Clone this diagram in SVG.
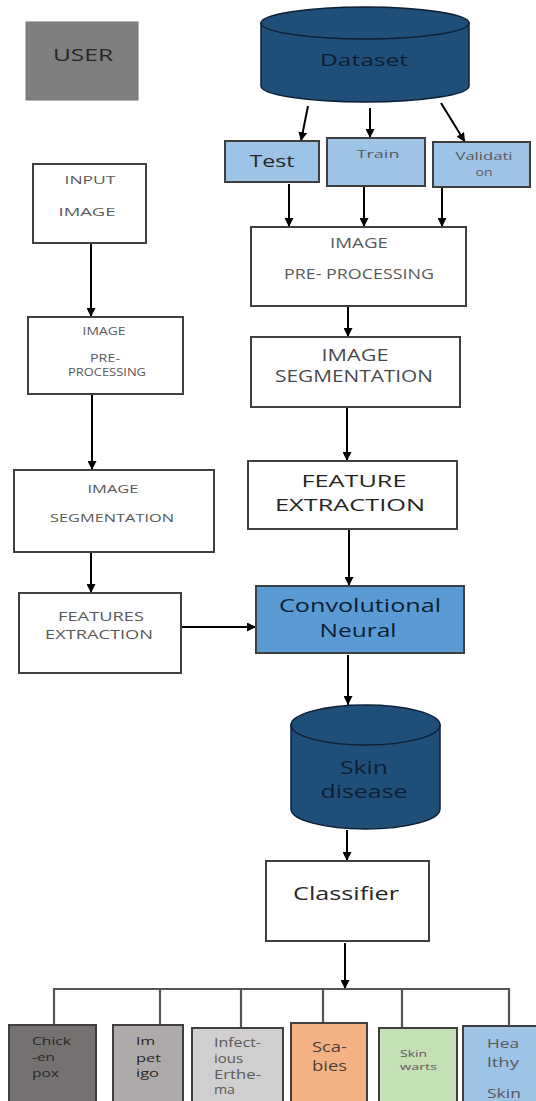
<svg xmlns="http://www.w3.org/2000/svg" width="536" height="1101" viewBox="0 0 536 1101">
<style>
text{font-family:"Open Sans","Liberation Sans",sans-serif;}
.box{stroke:#3f3f3f;stroke-width:2;}
.w{fill:#ffffff;}
.lb{fill:#9dc3e6;}
.cyl{fill:#1f4e79;stroke:#0d1f33;stroke-width:1.5;}
.c{text-anchor:middle;}
.g{fill:#595959;}
.d{fill:#262626;}
.n{fill:#0c1d30;}
.arr{stroke:#000;stroke-width:2;fill:none;marker-end:url(#ah);}
.br{stroke:#555;stroke-width:2.2;fill:none;}
</style>
<defs>
<marker id="ah" viewBox="0 0 10 10" refX="10" refY="5" markerUnits="userSpaceOnUse" markerWidth="9" markerHeight="9" orient="auto">
<path d="M0,0 L10,5 L0,10 Z" fill="#000"/>
</marker>
</defs>
<rect width="536" height="1101" fill="#ffffff"/>

<g id="connectors">
<line class="arr" x1="308" y1="106" x2="301" y2="141"/>
<line class="arr" x1="370" y1="108" x2="370" y2="138"/>
<line class="arr" x1="441" y1="103" x2="465" y2="142"/>
<line class="arr" x1="289" y1="184" x2="289" y2="227"/>
<line class="arr" x1="364" y1="187" x2="364" y2="227"/>
<line class="arr" x1="442" y1="187" x2="442" y2="227"/>
<line class="arr" x1="348" y1="306" x2="348" y2="337"/>
<line class="arr" x1="347" y1="407" x2="347" y2="461"/>
<line class="arr" x1="349" y1="529" x2="349" y2="586"/>
<line class="arr" x1="348" y1="655" x2="348" y2="705"/>
<line class="arr" x1="347" y1="830" x2="347" y2="861"/>
<line class="arr" x1="345" y1="943" x2="345" y2="989"/>
<line class="arr" x1="91" y1="243" x2="91" y2="317"/>
<line class="arr" x1="92" y1="394" x2="92" y2="470"/>
<line class="arr" x1="91" y1="552" x2="91" y2="593"/>
<line class="arr" x1="181" y1="627" x2="256" y2="627"/>
<polyline class="br" points="54,1025 54,989 510,989"/>
<line class="br" x1="160" y1="989" x2="160" y2="1025"/>
<line class="br" x1="241" y1="989" x2="241" y2="1028"/>
<line class="br" x1="323" y1="989" x2="323" y2="1023"/>
<line class="br" x1="402" y1="989" x2="402" y2="1028"/>
<line class="br" x1="509" y1="989" x2="509" y2="1026"/>
</g>

<g id="user">
<rect x="26" y="22" width="112" height="78" fill="#7f7f7f" stroke="#767676" stroke-width="1"/>
<text class="c d" x="83" y="61" font-size="16" textLength="60" lengthAdjust="spacingAndGlyphs">USER</text>
</g>

<g id="dataset">
<path class="cyl" d="M261,23 V86 A104,16 0 0 0 469,86 V23 Z"/>
<ellipse class="cyl" cx="365" cy="23" rx="104" ry="16"/>
<text class="c n" x="364" y="66" font-size="17" textLength="88" lengthAdjust="spacingAndGlyphs">Dataset</text>
</g>

<g id="test">
<rect class="box lb" x="225" y="141" width="94" height="41"/>
<text class="c d" x="272" y="167" font-size="16" textLength="45" lengthAdjust="spacingAndGlyphs">Test</text>
</g>

<g id="train">
<rect class="box lb" x="327" y="138" width="98" height="48"/>
<text class="c g" x="378" y="158" font-size="11.5" textLength="43" lengthAdjust="spacingAndGlyphs">Train</text>
</g>

<g id="validation">
<rect class="box lb" x="433" y="142" width="97" height="45"/>
<text class="c g" x="484" y="160" font-size="11" textLength="57" lengthAdjust="spacingAndGlyphs">Validati</text>
<text class="c g" x="484" y="176" font-size="11" textLength="17" lengthAdjust="spacingAndGlyphs">on</text>
</g>

<g id="input-image">
<rect class="box w" x="33" y="164" width="113" height="79"/>
<text class="c g" x="90" y="184" font-size="11" textLength="51" lengthAdjust="spacingAndGlyphs">INPUT</text>
<text class="c g" x="87" y="216" font-size="11" textLength="57" lengthAdjust="spacingAndGlyphs">IMAGE</text>
</g>

<g id="pre-processing-right">
<rect class="box w" x="251" y="227" width="215" height="79"/>
<text class="c g" x="359" y="248" font-size="14" textLength="58" lengthAdjust="spacingAndGlyphs">IMAGE</text>
<text class="c g" x="359" y="279" font-size="14" textLength="150" lengthAdjust="spacingAndGlyphs">PRE- PROCESSING</text>
</g>

<g id="pre-processing-left">
<rect class="box w" x="28" y="317" width="155" height="77"/>
<text class="c g" x="104" y="335" font-size="10.5" textLength="43" lengthAdjust="spacingAndGlyphs">IMAGE</text>
<text class="c g" x="105" y="362" font-size="10.5" textLength="30" lengthAdjust="spacingAndGlyphs">PRE-</text>
<text class="c g" x="107" y="376" font-size="10.5" textLength="78" lengthAdjust="spacingAndGlyphs">PROCESSING</text>
</g>

<g id="segmentation-right">
<rect class="box w" x="251" y="337" width="209" height="70"/>
<text class="c d" x="355" y="361" font-size="16" textLength="67" lengthAdjust="spacingAndGlyphs" fill-opacity="0.85">IMAGE</text>
<text class="c d" x="354" y="382" font-size="16" textLength="158" lengthAdjust="spacingAndGlyphs" fill-opacity="0.85">SEGMENTATION</text>
</g>

<g id="segmentation-left">
<rect class="box w" x="14" y="470" width="200" height="82"/>
<text class="c g" x="113" y="493" font-size="11.5" textLength="51" lengthAdjust="spacingAndGlyphs">IMAGE</text>
<text class="c g" x="112" y="522" font-size="11.5" textLength="124" lengthAdjust="spacingAndGlyphs">SEGMENTATION</text>
</g>

<g id="features-extraction-left">
<rect class="box w" x="19" y="593" width="162" height="80"/>
<text class="c g" x="101" y="621" font-size="13.5" textLength="86" lengthAdjust="spacingAndGlyphs">FEATURES</text>
<text class="c g" x="99" y="639" font-size="13.5" textLength="108" lengthAdjust="spacingAndGlyphs">EXTRACTION</text>
</g>

<g id="feature-extraction-right">
<rect class="box w" x="248" y="461" width="209" height="68"/>
<text class="c d" x="354" y="487" font-size="17" textLength="105" lengthAdjust="spacingAndGlyphs">FEATURE</text>
<text class="c d" x="350" y="511" font-size="17" textLength="150" lengthAdjust="spacingAndGlyphs">EXTRACTION</text>
</g>

<g id="cnn">
<rect class="box" x="256" y="586" width="208" height="67" fill="#5b9bd5"/>
<text class="c n" x="360" y="612" font-size="19" textLength="162" lengthAdjust="spacingAndGlyphs">Convolutional</text>
<text class="c n" x="358" y="637" font-size="19" textLength="77" lengthAdjust="spacingAndGlyphs">Neural</text>
</g>

<g id="skin-disease">
<path class="cyl" d="M291,725 V809 A74.5,20 0 0 0 440,809 V725 Z"/>
<ellipse class="cyl" cx="365.5" cy="725" rx="74.5" ry="20"/>
<text class="c n" x="364" y="774" font-size="19" textLength="48" lengthAdjust="spacingAndGlyphs">Skin</text>
<text class="c n" x="364" y="798" font-size="19" textLength="87" lengthAdjust="spacingAndGlyphs">disease</text>
</g>

<g id="classifier">
<rect class="box w" x="266" y="861" width="163" height="80"/>
<text class="c d" x="346" y="900" font-size="18" textLength="106" lengthAdjust="spacingAndGlyphs">Classifier</text>
</g>

<g id="chickenpox">
<rect class="box" x="9" y="1025" width="87" height="85" fill="#757171"/>
<text class="d" x="32" y="1045" font-size="11" textLength="39" lengthAdjust="spacingAndGlyphs">Chick</text>
<text class="d" x="32" y="1061" font-size="11" textLength="23" lengthAdjust="spacingAndGlyphs">-en</text>
<text class="d" x="32" y="1077" font-size="11" textLength="27" lengthAdjust="spacingAndGlyphs">pox</text>
</g>

<g id="impetigo">
<rect class="box" x="113" y="1025" width="70" height="85" fill="#aeaaaa"/>
<text class="d" x="136" y="1045" font-size="11" textLength="19" lengthAdjust="spacingAndGlyphs">Im</text>
<text class="d" x="136" y="1062" font-size="11" textLength="25" lengthAdjust="spacingAndGlyphs">pet</text>
<text class="d" x="136" y="1077" font-size="11" textLength="23" lengthAdjust="spacingAndGlyphs">igo</text>
</g>

<g id="infectious-erthema">
<rect class="box" x="192" y="1028" width="91" height="82" fill="#d0cece"/>
<text class="g" x="214" y="1047" font-size="12" textLength="47" lengthAdjust="spacingAndGlyphs">Infect-</text>
<text class="g" x="214" y="1063" font-size="12" textLength="29" lengthAdjust="spacingAndGlyphs">ious</text>
<text class="g" x="214" y="1079" font-size="12" textLength="47" lengthAdjust="spacingAndGlyphs">Erthe-</text>
<text class="g" x="214" y="1094" font-size="12" textLength="21" lengthAdjust="spacingAndGlyphs">ma</text>
</g>

<g id="scabies">
<rect class="box" x="291" y="1023" width="76" height="87" fill="#f4b183"/>
<text class="d" x="312" y="1052" font-size="14" textLength="35" lengthAdjust="spacingAndGlyphs" fill-opacity="0.85">Sca-</text>
<text class="d" x="312" y="1071" font-size="14" textLength="35" lengthAdjust="spacingAndGlyphs" fill-opacity="0.85">bies</text>
</g>

<g id="skin-warts">
<rect class="box" x="379" y="1028" width="78" height="82" fill="#c5e0b4"/>
<text class="g" x="400" y="1057" font-size="9.5" textLength="27" lengthAdjust="spacingAndGlyphs">Skin</text>
<text class="g" x="400" y="1070" font-size="9.5" textLength="37" lengthAdjust="spacingAndGlyphs">warts</text>
</g>

<g id="healthy-skin">
<rect class="box" x="463" y="1026" width="80" height="84" fill="#9dc3e6"/>
<text class="g" x="487" y="1048" font-size="13.5" textLength="32" lengthAdjust="spacingAndGlyphs">Hea</text>
<text class="g" x="487" y="1067" font-size="13.5" textLength="32" lengthAdjust="spacingAndGlyphs">lthy</text>
<text class="g" x="487" y="1098" font-size="13.5" textLength="34" lengthAdjust="spacingAndGlyphs">Skin</text>
</g>
</svg>
